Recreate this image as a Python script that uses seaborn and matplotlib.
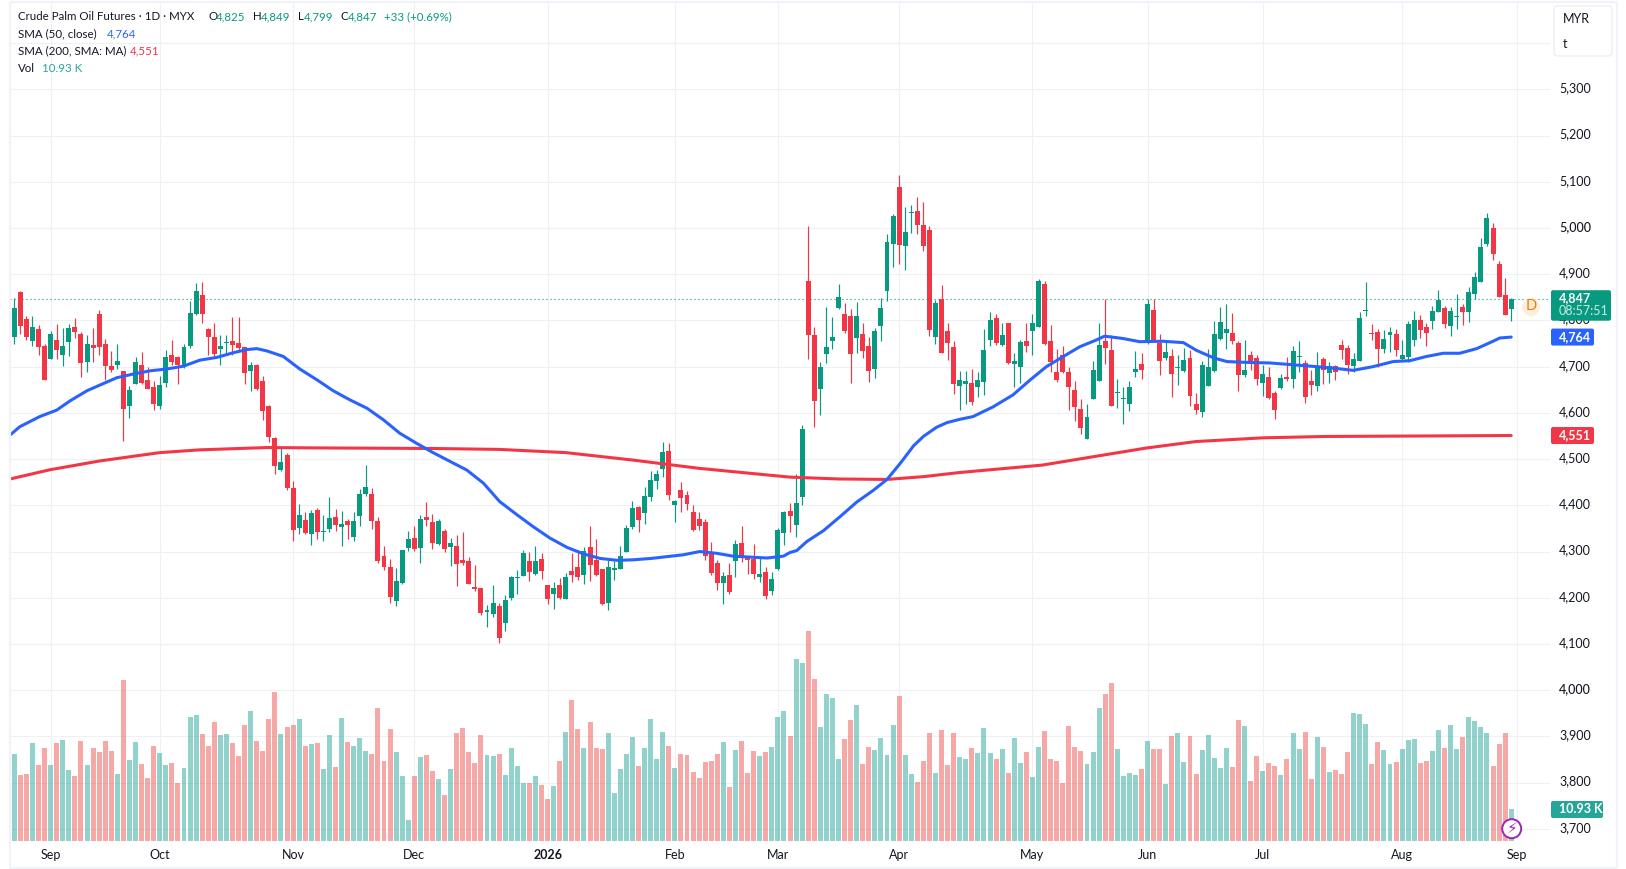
import matplotlib
matplotlib.use("Agg")
import numpy as np
import pandas as pd
import seaborn as sns
import matplotlib.pyplot as plt
from matplotlib.patches import FancyBboxPatch, Circle
from matplotlib.transforms import ScaledTranslation

# daily candles, MYR per tonne
opens = [4765,4861,4803,4756,4781,4745,4717,4758,4725,4754,
         4786,4771,4711,4747,4814,4749,4701,4704,4691,4615,
         4662,4704,4671,4656,4615,4665,4725,4721,4699,4745,
         4814,4855,4781,4764,4738,4752,4755,4751,4742,4691,
         4704,4669,4615,4546,4477,4509,4438,4351,4369,4338,
         4390,4343,4349,4375,4353,4366,4332,4377,4425,4425,
         4366,4291,4267,4193,4232,4308,4330,4308,4375,4364,
         4316,4345,4310,4312,4282,4280,4223,4221,4169,4165,
         4182,4146,4200,4243,4247,4280,4252,4284,4228,4208,
         4228,4197,4258,4267,4249,4310,4282,4262,4189,4260,
         4262,4299,4353,4396,4383,4418,4453,4479,4518,4401,
         4433,4422,4386,4370,4364,4299,4275,4232,4249,4280,
         4319,4288,4284,4245,4256,4215,4262,4340,4388,4358,
         4418,4885,4768,4652,4727,4755,4827,4814,4810,4762,
         4771,4745,4695,4788,4864,4965,5089,4961,5033,5037,
         5006,4996,4764,4846,4777,4743,4658,4662,4665,4656,
         4667,4758,4805,4747,4794,4706,4699,4755,4777,4786,
         4879,4755,4688,4725,4688,4649,4608,4544,4630,4669,
         4755,4736,4644,4631,4619,4688,4706,4753,4823,4751,
         4719,4723,4698,4691,4719,4619,4601,4659,4691,4760,
         4773,4773,4752,4682,4726,4719,4665,4678,4644,4654,
         4678,4674,4720,4708,4669,4659,4717,4687,4702,4747,
         4741,4702,4713,4820,4771,4775,4739,4769,4771,4717,
         4721,4758,4801,4786,4799,4819,4827,4788,4807,4830,
         4819,4858,4884,4966,5000,4923,4856,4825]
highs = [4848,4864,4809,4810,4790,4749,4777,4792,4784,4792,
         4805,4775,4768,4784,4822,4760,4734,4749,4691,4658,
         4721,4732,4699,4669,4680,4736,4758,4723,4749,4842,
         4881,4883,4784,4794,4768,4768,4807,4807,4742,4710,
         4706,4680,4617,4548,4524,4513,4453,4403,4386,4390,
         4395,4379,4418,4392,4388,4371,4386,4436,4488,4438,
         4375,4312,4284,4265,4304,4345,4356,4379,4407,4381,
         4370,4349,4329,4336,4342,4288,4271,4221,4184,4228,
         4189,4206,4247,4260,4303,4299,4312,4297,4228,4234,
         4243,4254,4297,4303,4310,4355,4327,4262,4282,4280,
         4312,4357,4409,4399,4440,4474,4476,4537,4535,4412,
         4451,4431,4401,4386,4370,4321,4282,4256,4275,4325,
         4355,4290,4316,4288,4267,4256,4351,4388,4405,4468,
         4574,5004,4786,4710,4829,4807,4879,4838,4825,4840,
         4794,4764,4784,4849,4987,5030,5115,5045,5050,5067,
         5056,5004,4844,4877,4794,4755,4691,4691,4695,4688,
         4781,4818,4814,4794,4794,4730,4758,4794,4814,4890,
         4885,4790,4738,4745,4699,4669,4630,4619,4712,4794,
         4846,4768,4673,4656,4669,4734,4730,4846,4846,4771,
         4758,4738,4725,4740,4736,4643,4713,4739,4799,4830,
         4836,4817,4756,4758,4734,4726,4704,4700,4648,4685,
         4721,4745,4756,4715,4693,4732,4721,4711,4704,4758,
         4747,4730,4819,4884,4793,4782,4780,4786,4782,4758,
         4799,4821,4812,4795,4832,4866,4832,4830,4858,4836,
         4873,4905,4979,5033,5011,4929,4892,4849]
lows = [4750,4771,4758,4745,4725,4672,4717,4716,4701,4723,
        4762,4678,4688,4710,4725,4671,4688,4695,4539,4589,
        4662,4662,4652,4606,4608,4656,4704,4662,4697,4740,
        4812,4794,4725,4719,4704,4727,4725,4736,4662,4647,
        4649,4585,4537,4468,4475,4433,4323,4338,4338,4314,
        4327,4323,4343,4345,4312,4327,4323,4356,4420,4349,
        4276,4260,4189,4183,4230,4302,4302,4275,4355,4306,
        4314,4299,4269,4226,4271,4230,4215,4163,4137,4159,
        4102,4128,4195,4208,4247,4236,4249,4241,4187,4176,
        4197,4197,4234,4239,4230,4236,4247,4184,4174,4239,
        4262,4299,4349,4342,4360,4409,4435,4461,4412,4364,
        4386,4390,4345,4347,4282,4249,4217,4187,4208,4245,
        4277,4251,4241,4234,4197,4206,4260,4314,4342,4332,
        4401,4717,4570,4595,4708,4738,4825,4773,4665,4730,
        4719,4667,4675,4755,4842,4916,4922,4909,4989,4987,
        4950,4766,4749,4730,4714,4641,4606,4619,4617,4634,
        4639,4745,4747,4745,4706,4656,4665,4732,4725,4786,
        4747,4688,4667,4686,4606,4582,4554,4544,4630,4669,
        4706,4615,4611,4576,4604,4678,4673,4749,4753,4682,
        4714,4634,4660,4688,4615,4598,4592,4659,4689,4758,
        4739,4750,4648,4678,4693,4661,4637,4631,4587,4652,
        4669,4654,4689,4622,4639,4648,4663,4665,4672,4717,
        4685,4689,4713,4810,4758,4700,4730,4732,4724,4715,
        4711,4745,4763,4745,4782,4819,4784,4767,4782,4791,
        4797,4847,4884,4962,4931,4851,4812,4799]
closes = [4827,4789,4765,4786,4743,4672,4771,4736,4745,4784,
          4775,4709,4749,4740,4742,4701,4693,4712,4608,4649,
          4710,4665,4652,4619,4660,4721,4710,4704,4742,4816,
          4864,4814,4764,4727,4745,4753,4747,4740,4686,4704,
          4652,4604,4548,4486,4494,4438,4347,4379,4340,4384,
          4343,4345,4373,4358,4360,4358,4366,4425,4440,4366,
          4280,4267,4202,4237,4304,4327,4306,4370,4368,4319,
          4366,4306,4319,4273,4275,4230,4219,4167,4174,4189,
          4113,4195,4245,4245,4297,4256,4280,4258,4197,4221,
          4200,4245,4249,4245,4301,4271,4249,4187,4267,4265,
          4290,4351,4394,4368,4420,4455,4468,4515,4422,4409,
          4416,4403,4347,4355,4290,4254,4232,4247,4213,4316,
          4288,4282,4252,4252,4204,4241,4347,4386,4377,4405,
          4565,4768,4626,4699,4743,4764,4851,4777,4727,4810,
          4734,4691,4777,4827,4970,5026,4963,4991,5035,5006,
          4961,4779,4838,4730,4751,4662,4671,4669,4624,4671,
          4736,4801,4751,4768,4708,4712,4753,4745,4794,4885,
          4749,4710,4671,4688,4656,4613,4567,4591,4693,4747,
          4740,4615,4645,4632,4656,4695,4693,4836,4758,4712,
          4732,4684,4699,4714,4637,4606,4704,4700,4771,4797,
          4782,4756,4682,4693,4713,4674,4685,4633,4607,4676,
          4674,4734,4721,4635,4661,4700,4693,4702,4689,4737,
          4704,4717,4806,4821,4770,4739,4760,4775,4737,4726,
          4793,4801,4780,4773,4821,4845,4793,4821,4808,4819,
          4862,4894,4959,5022,4944,4851,4812,4847]
# volume in thousands
volumes = [29.9,22.7,23.0,33.7,26.1,32.0,26.1,33.7,34.8,24.4,
           22.3,34.4,26.1,32.0,30.6,34.4,31.0,23.0,55.5,27.8,
           34.1,26.5,21.6,32.7,30.3,26.1,26.8,19.9,25.1,42.7,
           43.4,36.8,32.7,41.0,36.5,36.8,33.7,29.2,39.9,44.8,
           34.4,31.0,42.0,51.3,36.8,39.2,39.9,42.0,32.7,33.4,
           33.7,24.7,36.5,25.4,42.3,34.1,32.7,35.4,31.0,29.9,
           45.8,27.5,38.5,30.6,22.3,7.1,22.3,28.9,29.6,24.1,
           21.3,15.8,24.7,37.2,38.9,30.6,26.8,36.5,29.6,29.2,
           29.9,22.7,32.0,25.8,19.9,19.9,22.3,19.2,14.4,18.9,
           27.5,37.5,48.6,38.5,32.0,41.0,32.0,31.6,37.2,16.5,
           24.7,29.9,35.8,25.8,32.0,42.0,28.2,37.5,32.7,25.1,
           29.9,29.6,23.7,21.6,27.2,27.5,29.9,34.1,18.5,31.3,
           34.4,23.4,31.0,29.2,30.6,32.3,42.7,44.8,36.1,62.7,
           61.3,72.4,55.8,39.2,50.6,49.3,28.2,35.1,41.7,46.8,
           26.5,32.3,31.3,35.4,29.6,39.9,49.9,29.6,23.0,20.3,
           27.5,37.2,23.4,38.2,26.1,37.2,28.9,28.2,32.0,30.3,
           38.9,30.3,28.2,31.6,23.4,35.4,26.8,30.6,22.0,32.3,
           37.9,28.2,27.5,19.9,39.6,32.3,31.0,26.5,30.6,45.8,
           50.6,54.4,31.6,22.3,23.4,22.7,24.7,34.4,31.6,31.6,
           19.6,36.1,37.2,27.2,36.1,23.0,31.3,36.5,28.5,25.1,
           32.0,25.4,41.7,39.6,20.6,29.2,24.1,26.8,25.8,22.7,
           28.2,37.2,31.6,37.5,21.3,35.8,32.3,23.7,24.4,23.0,
           30.6,44.1,43.7,40.3,26.5,34.1,31.3,26.5,27.2,31.6,
           34.8,35.1,26.8,27.5,31.0,38.2,32.0,39.9,31.6,35.8,
           42.7,41.3,39.2,37.2,25.8,33.4,37.2,10.93]

# moving averages, read at bar positions
sma50_pos = [-0.7,0.9,4.2,7,9.2,12,14.1,16.9,19.6,22.4,25.2,27.9,30.6,33.4,36.1,38.4,40,41.7,44.4,47.1,
             50,52.6,55.4,58.2,60.9,63.6,66.4,69.1,74.7,77.4,80.1,83,85.6,88.4,91.2,93.9,96.7,99.5,102,105,
             107.7,110.4,113.1,116,118.6,121.4,124.2,126.9,128,129.1,130.8,133.5,136.3,139,141.7,144,146.2,148.4,150,152.2,
             153.9,156,158.2,161.5,164.8,167.6,
             170.3,173.1,175.8,178.6,179.9,182.9,185.7,189.5,192.9,195.1,197.9,200.1,203.9,207.2,211.1,214.9,218.2,220.9,224.2,227.5,
             230.3,233,235.8,238.5,241.3,244,245.1,247]
sma50_val = [4552,4570,4592,4606,4626,4648,4660,4676,4684,4691,4695,4701,4714,4720,4730,4737,4739,4734,4722,4695,
             4671,4648,4628,4610,4585,4556,4534,4514,4476,4448,4408,4379,4354,4329,4309,4295,4285,4281,4282,4285,
             4289,4293,4300,4296,4290,4288,4286,4290,4298,4302,4322,4345,4376,4407,4432,4456,4491,4529,4549,4569,
             4579,4586,4592,4613,4639,4671,
             4700,4722,4743,4758,4766,4761,4754,4755,4752,4735,4719,4711,4709,4708,4704,4700,4696,4692,4700,4711,
             4713,4722,4729,4729,4739,4755,4762,4764]
sma200_pos = [-0.7,5.9,14.1,24,30.6,41.7,52.6,69,80,91,102,113,124,128,136,144,150,156,169.6,186.8,195,206,216.5,232,247]
sma200_val = [4457,4477,4496,4514,4520,4525,4524,4523,4521,4514,4498,4480,4466,4461,4457,4456,4462,4471,4487,4524,4538,4546,4549,4550,4551]

month_pos = [6,24,46,66,88,109,126,146,168,187,206,229,248]
month_labels = ["Sep","Oct","Nov","Dec","2026","Feb","Mar","Apr","May","Jun","Jul","Aug","Sep"]
price_ticks = list(range(3700, 5500, 100))

GREEN = "#089981"
RED = "#F23645"
BLUE = "#2962FF"
TEXT = "#131722"
GRID = "#eef0f4"
FS = 9
FS_LEG = 8.3

sns.set_theme(style="white")
plt.rcParams["font.family"] = ["Lato", "DejaVu Sans"]

idx = np.arange(len(closes))
df = pd.DataFrame({"idx": idx, "open": opens, "high": highs, "low": lows, "close": closes, "vol": volumes})
df["dir"] = np.where(df["close"] >= df["open"], "up", "down")

W, H = 1626, 869
fig = plt.figure(figsize=(W / 100, H / 100), dpi=100, facecolor="white")
# plot area in pixels: x 10..1550, y 2..841
ax = fig.add_axes([10 / W, (H - 841) / H, 1540 / W, 839 / H])
ax.set_facecolor("white")

# grid, wicks and bodies
ax.set_yticks(price_ticks)
ax.set_xticks(month_pos)
ax.grid(True, color=GRID, lw=0.8)
ax.set_axisbelow(True)
for d, col in (("up", GREEN), ("down", RED)):
    sub = df[df["dir"] == d]
    ax.vlines(sub["idx"], sub["low"], sub["high"], color=col, lw=0.85, zorder=2)
    ax.bar(sub["idx"], (sub["close"] - sub["open"]).abs().clip(lower=2), bottom=sub[["open", "close"]].min(axis=1),
           width=0.82, color=col, lw=0, zorder=3)

ax.axhline(closes[-1], color=GREEN, lw=0.8, ls=(0, (1, 2.6)), zorder=1.5)

sns.lineplot(x=sma200_pos, y=sma200_val, color=RED, lw=2.2, ax=ax, sort=False, errorbar=None, zorder=4,
             solid_joinstyle="round")
sns.lineplot(x=sma50_pos, y=sma50_val, color=BLUE, lw=2.2, ax=ax, sort=False, errorbar=None, zorder=5,
             solid_joinstyle="round")

# volume sits on its own scale at the bottom
ax_vol = ax.twinx()
sns.barplot(data=df, x="idx", y="vol", hue="dir", palette={"up": "#26a69a", "down": "#ef5350"},
            native_scale=True, dodge=False, width=0.82, saturation=1, alpha=0.5, linewidth=0,
            legend=False, ax=ax_vol)
ax_vol.set_ylim(0, 289.6)
ax_vol.set_yticks([])
ax_vol.set_xlabel("")
ax_vol.set_ylabel("")
ax_vol.patch.set_visible(False)

ax.set_xlim(-0.71, 253.4)
ax_vol.set_xlim(-0.71, 253.4)
ax.set_ylim(5000 - (841 - 228) / 0.4622, 5000 + (228 - 2) / 0.4622)
ax.set_xlabel("")
ax.set_ylabel("")
ax.yaxis.tick_right()
ax.set_yticklabels(["{:,}".format(p) if p != 5400 else "" for p in price_ticks])
ax.set_xticklabels(month_labels)
ax.tick_params(axis="y", length=0, pad=6.5, labelsize=FS, labelcolor=TEXT)
ax.tick_params(axis="x", length=0, pad=5.5, labelsize=FS, labelcolor=TEXT)
lift = ScaledTranslation(0, 1.44 / 72, fig.dpi_scale_trans)
for t in ax.get_yticklabels():
    t.set_transform(t.get_transform() + lift)
    if t.get_text() in ("4,000", "5,000"):
        t.set_fontweight("medium")
for t in ax.get_xticklabels():
    if t.get_text() == "2026":
        t.set_fontweight("bold")
for a in (ax, ax_vol):
    for s in a.spines.values():
        s.set_visible(False)

# overlay in pixel coordinates for legend, badges and frame
ov = fig.add_axes([0, 0, 1, 1], zorder=10)
ov.set_xlim(0, W)
ov.set_ylim(H, 0)
ov.axis("off")
ov.patch.set_visible(False)

def price_y(p):
    return H - ax.transData.transform((0, p))[1]

for xs, ys in (([10, 10], [2, 868]), ([10, 1617], [2, 2]), ([1617, 1617], [2, 868]), ([10, 1617], [868, 868])):
    ov.plot(xs, ys, color="#f0f3fa", lw=1.6, solid_capstyle="butt")

def badge(x0, x1, y0, y1, col):
    ov.add_patch(FancyBboxPatch((x0, y0), x1 - x0, y1 - y0, boxstyle="round,pad=0,rounding_size=2",
                                fc=col, ec="none", zorder=3))

yc = price_y(4847)
badge(1551, 1611, yc - 8.5, yc + 22, GREEN)
ov.text(1559, yc - 0.5, "4,847", color="white", fontsize=FS, va="center", fontweight="bold", zorder=4)
ov.text(1559, yc + 12.5, "08:57:51", color="#cdeae4", fontsize=FS, va="center", zorder=4)

yc = price_y(4764)
badge(1551, 1594, yc - 8.5, yc + 8.5, BLUE)
ov.text(1559, yc - 0.5, "4,764", color="white", fontsize=FS, va="center", fontweight="bold", zorder=4)

yc = price_y(4551)
badge(1551, 1594, yc - 8.5, yc + 8.5, RED)
ov.text(1559, yc - 0.5, "4,551", color="white", fontsize=FS, va="center", fontweight="bold", zorder=4)

badge(1551, 1603, 801, 818, "#26a69a")
ov.text(1559, 809, "10.93 K", color="white", fontsize=FS, va="center", fontweight="bold", zorder=4)

# currency / unit box
ov.add_patch(FancyBboxPatch((1554, 6), 58, 50, boxstyle="round,pad=0,rounding_size=4", fc="white", ec="#eceef2", lw=1, zorder=3))
ov.text(1563, 19, "MYR", color=TEXT, fontsize=FS, va="center", zorder=4)
ov.text(1563, 44, "t", color=TEXT, fontsize=FS, va="center", zorder=4)

# D marker and flash icon
ov.add_patch(Circle((1531, 307), 9, fc="#fdeedd", ec="none", zorder=3))
ov.text(1531, 306.5, "D", color="#f57c00", fontsize=10.5, ha="center", va="center", zorder=4)
ov.add_patch(Circle((1511.7, 828.7), 9.5, fc="white", ec="#9c27b0", lw=1.4, zorder=3))
ov.text(1511.7, 828.7, "\u26a1", color="#9c27b0", fontsize=11, ha="center", va="center", family="DejaVu Sans", zorder=4)

# header legend
ov.text(18, 17, "Crude Palm Oil Futures \u00b7 1D \u00b7 MYX", color=TEXT, fontsize=FS_LEG, va="center")
for x, s, c in ((208, "O", TEXT), (216, "4,825", GREEN), (253, "H", TEXT), (261, "4,849", GREEN),
                (297.5, "L", TEXT), (303.4, "4,799", GREEN), (340, "C", TEXT), (347.5, "4,847", GREEN),
                (384.3, "+33 (+0.69%)", GREEN)):
    ov.text(x, 17, s, color=c, fontsize=FS_LEG, va="center")
ov.text(18, 34, "SMA (50, close)", color=TEXT, fontsize=FS_LEG, va="center")
ov.text(107, 34, "4,764", color=BLUE, fontsize=FS_LEG, va="center")
ov.text(18, 51, "SMA (200, SMA: MA)", color=TEXT, fontsize=FS_LEG, va="center")
ov.text(130, 51, "4,551", color=RED, fontsize=FS_LEG, va="center")
ov.text(18, 68, "Vol", color=TEXT, fontsize=FS_LEG, va="center")
ov.text(41.7, 68, "10.93 K", color="#26a69a", fontsize=FS_LEG, va="center")

fig.savefig("out.png", dpi=100, facecolor="white")
